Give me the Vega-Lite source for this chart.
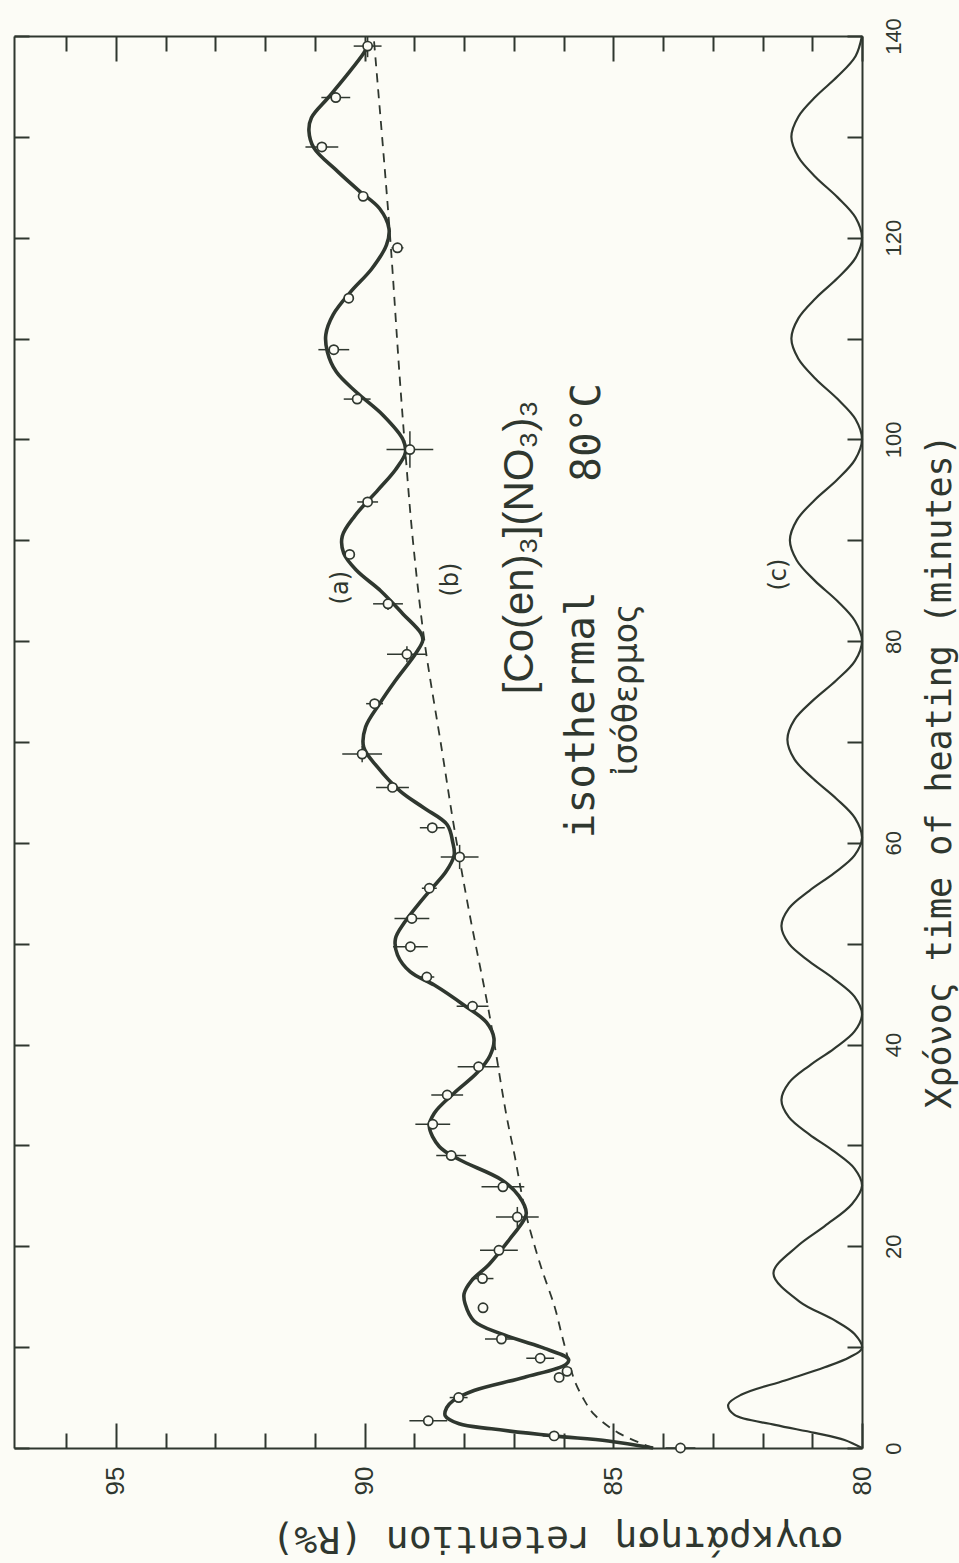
{
  "$schema": "https://vega.github.io/schema/vega-lite/v6.json",
  "width": 848,
  "height": 1412,
  "autosize": {"type": "none"},
  "padding": {"left": 14, "top": 36, "right": 97, "bottom": 115},
  "background": "#fcfcf6",
  "config": {
    "view": {"stroke": null},
    "axis": {"grid": false, "domainColor": "#2f372f", "domainWidth": 2, "tickColor": "#2f372f", "tickWidth": 2, "labelColor": "#2f372f", "titleColor": "#2f372f", "labelFlush": false, "labelOverlap": false}
  },
  "datasets": {
    "curveA": [{"t":0,"R":84.2},{"t":0.7,"R":85.1},{"t":1.2,"R":86.2},{"t":1.9,"R":87.45},{"t":2.4,"R":88.1},{"t":3.2,"R":88.38},{"t":4.0,"R":88.35},{"t":4.7,"R":88.22},{"t":5.7,"R":87.8},{"t":7.0,"R":86.8},{"t":8.3,"R":85.95},{"t":8.8,"R":85.9},{"t":10.0,"R":86.45},{"t":11.3,"R":87.25},{"t":12.6,"R":87.8},{"t":14.3,"R":87.98},{"t":15.3,"R":88.0},{"t":16.6,"R":87.85},{"t":18.2,"R":87.5},{"t":20.6,"R":87.1},{"t":22.6,"R":86.8},{"t":23.3,"R":86.75},{"t":25.0,"R":86.9},{"t":26.6,"R":87.25},{"t":28.6,"R":88.1},{"t":29.9,"R":88.5},{"t":31.9,"R":88.7},{"t":33.2,"R":88.6},{"t":35.2,"R":88.2},{"t":37.2,"R":87.74},{"t":38.9,"R":87.48},{"t":40.6,"R":87.4},{"t":42.2,"R":87.55},{"t":43.9,"R":88.0},{"t":45.9,"R":88.6},{"t":47.2,"R":89.08},{"t":48.9,"R":89.34},{"t":50.5,"R":89.38},{"t":52.1,"R":89.2},{"t":55.1,"R":88.72},{"t":57.1,"R":88.37},{"t":58.8,"R":88.2},{"t":60.1,"R":88.23},{"t":61.8,"R":88.34},{"t":63.5,"R":88.82},{"t":65.1,"R":89.28},{"t":67.5,"R":89.74},{"t":69.5,"R":90.02},{"t":71.5,"R":89.98},{"t":73.8,"R":89.7},{"t":76.1,"R":89.38},{"t":78.8,"R":88.97},{"t":80.1,"R":88.83},{"t":80.8,"R":88.87},{"t":82.7,"R":89.23},{"t":85.0,"R":89.68},{"t":87.0,"R":90.16},{"t":88.7,"R":90.42},{"t":90.4,"R":90.45},{"t":92.4,"R":90.2},{"t":95.0,"R":89.73},{"t":97.0,"R":89.38},{"t":98.7,"R":89.18},{"t":100.0,"R":89.23},{"t":102.4,"R":89.63},{"t":104.7,"R":90.17},{"t":106.7,"R":90.57},{"t":108.7,"R":90.75},{"t":110.4,"R":90.78},{"t":112.4,"R":90.63},{"t":114.7,"R":90.27},{"t":116.9,"R":89.86},{"t":119.3,"R":89.56},{"t":120.9,"R":89.51},{"t":122.9,"R":89.7},{"t":124.6,"R":90.1},{"t":126.6,"R":90.55},{"t":128.9,"R":91.02},{"t":130.6,"R":91.12},{"t":131.9,"R":91.07},{"t":133.9,"R":90.73},{"t":136.3,"R":90.33},{"t":138.3,"R":90.02},{"t":139.0,"R":89.94}],
    "curveB": [{"t":0,"R":84.2},{"t":1.5,"R":84.9},{"t":3.3,"R":85.38},{"t":4.7,"R":85.58},{"t":6.7,"R":85.78},{"t":8.7,"R":85.9},{"t":11.3,"R":86.04},{"t":14,"R":86.18},{"t":17.9,"R":86.45},{"t":21.2,"R":86.65},{"t":23.9,"R":86.79},{"t":28.9,"R":86.98},{"t":33,"R":87.15},{"t":43.2,"R":87.5},{"t":53.2,"R":87.9},{"t":61.5,"R":88.2},{"t":69.3,"R":88.45},{"t":80.1,"R":88.8},{"t":90,"R":89.03},{"t":98.7,"R":89.18},{"t":106.5,"R":89.3},{"t":120.9,"R":89.5},{"t":140,"R":89.82}],
    "curveC": [{"t":0,"R":80},{"t":0.8,"R":80.35},{"t":1.5,"R":80.95},{"t":2.3,"R":81.75},{"t":3.3,"R":82.57},{"t":4.3,"R":82.69},{"t":5.3,"R":82.42},{"t":6.7,"R":81.55},{"t":8.0,"R":80.75},{"t":9.0,"R":80.25},{"t":9.9,"R":80},{"t":11.3,"R":80.15},{"t":12.8,"R":80.6},{"t":14.5,"R":81.25},{"t":17.3,"R":81.78},{"t":20.0,"R":81.3},{"t":22.0,"R":80.75},{"t":24.2,"R":80.2},{"t":26,"R":80},{"t":27.7,"R":80.15},{"t":29.4,"R":80.56},{"t":31.1,"R":81.06},{"t":32.8,"R":81.47},{"t":34.5,"R":81.62},{"t":36.2,"R":81.47},{"t":37.9,"R":81.06},{"t":39.6,"R":80.56},{"t":41.3,"R":80.15},{"t":43,"R":80},{"t":44.75,"R":80.15},{"t":46.5,"R":80.56},{"t":48.25,"R":81.06},{"t":50,"R":81.47},{"t":51.75,"R":81.62},{"t":53.5,"R":81.47},{"t":55.25,"R":81.06},{"t":57,"R":80.56},{"t":58.75,"R":80.15},{"t":60.5,"R":80},{"t":62.45,"R":80.14},{"t":64.4,"R":80.52},{"t":66.35,"R":80.98},{"t":68.3,"R":81.36},{"t":70.25,"R":81.5},{"t":72.2,"R":81.36},{"t":74.15,"R":80.98},{"t":76.1,"R":80.52},{"t":78.05,"R":80.14},{"t":80,"R":80},{"t":82,"R":80.14},{"t":84,"R":80.5},{"t":86,"R":80.95},{"t":88,"R":81.31},{"t":90,"R":81.45},{"t":92,"R":81.31},{"t":94,"R":80.95},{"t":96,"R":80.5},{"t":98,"R":80.14},{"t":100,"R":80},{"t":102,"R":80.13},{"t":104,"R":80.49},{"t":106,"R":80.93},{"t":108,"R":81.28},{"t":110,"R":81.42},{"t":112,"R":81.28},{"t":114,"R":80.93},{"t":116,"R":80.49},{"t":118,"R":80.13},{"t":120,"R":80},{"t":122,"R":80.13},{"t":124,"R":80.49},{"t":126,"R":80.93},{"t":128,"R":81.28},{"t":130,"R":81.42},{"t":132,"R":81.28},{"t":134,"R":80.93},{"t":136,"R":80.49},{"t":138,"R":80.13},{"t":140,"R":80}],
    "pts": [{"t":139,"R":89.94},{"t":133.9,"R":90.58},{"t":129.0,"R":90.86},{"t":124.1,"R":90.03},{"t":119.0,"R":89.34},{"t":114.0,"R":90.32},{"t":108.9,"R":90.62},{"t":104.0,"R":90.15},{"t":99.0,"R":89.09},{"t":93.8,"R":89.94},{"t":88.6,"R":90.3},{"t":83.7,"R":89.53},{"t":78.7,"R":89.15},{"t":73.8,"R":89.8},{"t":68.8,"R":90.05},{"t":65.5,"R":89.44},{"t":61.5,"R":88.64},{"t":58.6,"R":88.09},{"t":55.5,"R":88.7},{"t":52.5,"R":89.05},{"t":49.7,"R":89.08},{"t":46.7,"R":88.75},{"t":43.8,"R":87.83},{"t":37.8,"R":87.71},{"t":35.0,"R":88.34},{"t":32.1,"R":88.63},{"t":29.0,"R":88.26},{"t":25.9,"R":87.22},{"t":22.9,"R":86.93},{"t":19.6,"R":87.3},{"t":16.8,"R":87.63},{"t":13.9,"R":87.62},{"t":10.8,"R":87.25},{"t":8.9,"R":86.47},{"t":7.0,"R":86.09},{"t":7.6,"R":85.93},{"t":5.0,"R":88.11},{"t":2.7,"R":88.72},{"t":1.2,"R":86.19},{"t":0,"R":83.65}],
    "errR": [{"t":139,"lo":89.66,"hi":90.22},{"t":133.9,"lo":90.29,"hi":90.87},{"t":129.0,"lo":90.53,"hi":91.19},{"t":119.0,"lo":89.22,"hi":89.46},{"t":108.9,"lo":90.31,"hi":90.93},{"t":104.0,"lo":89.88,"hi":90.42},{"t":99.0,"lo":88.62,"hi":89.56},{"t":93.8,"lo":89.73,"hi":90.15},{"t":83.7,"lo":89.23,"hi":89.83},{"t":78.7,"lo":88.75,"hi":89.55},{"t":73.8,"lo":89.63,"hi":89.97},{"t":68.8,"lo":89.65,"hi":90.45},{"t":65.5,"lo":89.11,"hi":89.77},{"t":61.5,"lo":88.39,"hi":88.89},{"t":58.6,"lo":87.71,"hi":88.47},{"t":55.5,"lo":88.55,"hi":88.85},{"t":52.5,"lo":88.7,"hi":89.4},{"t":49.7,"lo":88.73,"hi":89.43},{"t":46.7,"lo":88.6,"hi":88.9},{"t":43.8,"lo":87.51,"hi":88.15},{"t":37.8,"lo":87.29,"hi":88.13},{"t":35.0,"lo":88.02,"hi":88.66},{"t":32.1,"lo":88.28,"hi":88.98},{"t":29.0,"lo":87.96,"hi":88.56},{"t":25.9,"lo":86.79,"hi":87.65},{"t":22.9,"lo":86.5,"hi":87.36},{"t":19.6,"lo":86.92,"hi":87.68},{"t":16.8,"lo":87.41,"hi":87.85},{"t":10.8,"lo":86.92,"hi":87.58},{"t":8.9,"lo":86.19,"hi":86.75},{"t":5.0,"lo":87.93,"hi":88.29},{"t":2.7,"lo":88.34,"hi":89.1},{"t":1.2,"lo":85.96,"hi":86.42},{"t":0,"lo":83.35,"hi":83.95}],
    "errT": [{"R":89.94,"lo":137.9,"hi":140},{"R":89.09,"lo":97.2,"hi":100.8},{"R":89.53,"lo":83.1,"hi":84.3},{"R":89.15,"lo":77.9,"hi":79.5},{"R":90.05,"lo":68.0,"hi":69.6},{"R":88.09,"lo":57.4,"hi":59.8},{"R":86.93,"lo":21.9,"hi":23.9}]
  },
  "resolve": {"axis": {"x": "independent", "y": "independent"}},
  "layer": [
    {
      "data": {"name": "curveC"},
      "mark": {"type": "line", "interpolate": "catmull-rom", "strokeWidth": 2.2, "color": "#2f372f"},
      "encoding": {
        "x": {"field": "R", "type": "quantitative", "scale": {"domain": [80, 97.05], "reverse": true, "nice": false, "zero": false},
          "axis": {"orient": "bottom", "values": [80,81,82,83,84,85,86,87,88,89,90,91,92,93,94,95,96],
            "labelExpr": "datum.value % 5 === 0 ? datum.label : ''",
            "tickSize": {"condition": {"test": "datum.value % 5 === 0", "value": -25}, "value": -15},
            "labelAngle": 270, "labelAlign": "right", "labelBaseline": "middle", "labelPadding": 43,
            "labelFont": "Liberation Sans", "labelFontSize": 26,
            "title": "συγκράτηση   retention (R%)", "titleFont": "DejaVu Sans Mono", "titleFontSize": 38, "titleFontWeight": "normal",
            "titleAngle": 180, "titleAlign": "center", "titleBaseline": "middle", "titleX": 543, "titleY": 89}},
        "y": {"field": "t", "type": "quantitative", "scale": {"domain": [0, 140], "nice": false, "zero": false},
          "axis": {"orient": "right", "values": [0,10,20,30,40,50,60,70,80,90,100,110,120,130,140],
            "labelExpr": "datum.value % 20 === 0 ? datum.label : ''",
            "tickSize": -15, "labelAngle": 270, "labelAlign": "center", "labelBaseline": "top", "labelPadding": 36,
            "labelFont": "Liberation Sans", "labelFontSize": 22,
            "title": "Χρόνος   time of heating (minutes)", "titleFont": "DejaVu Sans Mono", "titleFontSize": 35, "titleFontWeight": "normal",
            "titleAngle": 270, "titleAlign": "center", "titleBaseline": "middle", "titleX": 77, "titleY": 735}},
        "order": {"field": "t", "type": "quantitative"}
      }
    },
    {
      "data": {"name": "curveB"},
      "mark": {"type": "line", "interpolate": "catmull-rom", "strokeWidth": 1.8, "strokeDash": [9, 7], "color": "#2f372f"},
      "encoding": {
        "x": {"field": "R", "type": "quantitative", "scale": {"domain": [80, 97.05], "reverse": true, "nice": false, "zero": false},
          "axis": {"orient": "top", "values": [80,81,82,83,84,85,86,87,88,89,90,91,92,93,94,95,96], "labels": false,
            "tickSize": {"condition": {"test": "datum.value % 5 === 0", "value": -25}, "value": -15}, "title": null}},
        "y": {"field": "t", "type": "quantitative", "scale": {"domain": [0, 140], "nice": false, "zero": false},
          "axis": {"orient": "left", "values": [0,10,20,30,40,50,60,70,80,90,100,110,120,130,140], "labels": false, "tickSize": -15, "title": null}},
        "order": {"field": "t", "type": "quantitative"}
      }
    },
    {
      "data": {"name": "curveA"},
      "mark": {"type": "line", "interpolate": "catmull-rom", "strokeWidth": 3.6, "color": "#2f372f"},
      "encoding": {
        "x": {"field": "R", "type": "quantitative", "scale": {"domain": [80, 97.05], "reverse": true, "nice": false, "zero": false}, "axis": null},
        "y": {"field": "t", "type": "quantitative", "scale": {"domain": [0, 140], "nice": false, "zero": false}, "axis": null},
        "order": {"field": "t", "type": "quantitative"}
      }
    },
    {
      "data": {"name": "errR"},
      "mark": {"type": "rule", "strokeWidth": 1.5, "color": "#2f372f"},
      "encoding": {
        "x": {"field": "lo", "type": "quantitative", "scale": {"domain": [80, 97.05], "reverse": true, "nice": false, "zero": false}, "axis": null},
        "x2": {"field": "hi"},
        "y": {"field": "t", "type": "quantitative", "scale": {"domain": [0, 140], "nice": false, "zero": false}, "axis": null}
      }
    },
    {
      "data": {"name": "errT"},
      "mark": {"type": "rule", "strokeWidth": 1.5, "color": "#2f372f"},
      "encoding": {
        "x": {"field": "R", "type": "quantitative", "scale": {"domain": [80, 97.05], "reverse": true, "nice": false, "zero": false}, "axis": null},
        "y": {"field": "lo", "type": "quantitative", "scale": {"domain": [0, 140], "nice": false, "zero": false}, "axis": null},
        "y2": {"field": "hi"}
      }
    },
    {
      "data": {"name": "pts"},
      "mark": {"type": "point", "shape": "circle", "size": 85, "filled": false, "fill": "#fcfcf6", "fillOpacity": 1, "strokeWidth": 1.7, "color": "#2f372f", "opacity": 1},
      "encoding": {
        "x": {"field": "R", "type": "quantitative", "scale": {"domain": [80, 97.05], "reverse": true, "nice": false, "zero": false}, "axis": null},
        "y": {"field": "t", "type": "quantitative", "scale": {"domain": [0, 140], "nice": false, "zero": false}, "axis": null}
      }
    },
    {
      "data": {"values": [{"label": "(a)", "t": 85.3, "R": 90.34}, {"label": "(b)", "t": 86.1, "R": 88.12}, {"label": "(c)", "t": 86.6, "R": 81.53}]},
      "mark": {"type": "text", "angle": 270, "align": "center", "baseline": "alphabetic", "font": "DejaVu Sans", "fontSize": 24, "color": "#2f372f"},
      "encoding": {
        "x": {"field": "R", "type": "quantitative", "scale": {"domain": [80, 97.05], "reverse": true, "nice": false, "zero": false}, "axis": null},
        "y": {"field": "t", "type": "quantitative", "scale": {"domain": [0, 140], "nice": false, "zero": false}, "axis": null},
        "text": {"field": "label"}
      }
    },
    {
      "data": {"values": [{"label": "[Co(en)₃](NO₃)₃", "t": 89.3, "R": 86.62}]},
      "mark": {"type": "text", "angle": 270, "align": "center", "baseline": "alphabetic", "font": "Liberation Sans", "fontSize": 42, "color": "#2f372f"},
      "encoding": {
        "x": {"field": "R", "type": "quantitative", "scale": {"domain": [80, 97.05], "reverse": true, "nice": false, "zero": false}, "axis": null},
        "y": {"field": "t", "type": "quantitative", "scale": {"domain": [0, 140], "nice": false, "zero": false}, "axis": null},
        "text": {"field": "label"}
      }
    },
    {
      "data": {"values": [{"label": "isothermal", "t": 72.7, "R": 85.39}, {"label": "80°C", "t": 100.7, "R": 85.27}]},
      "mark": {"type": "text", "angle": 270, "align": "center", "baseline": "alphabetic", "font": "DejaVu Sans Mono", "fontSize": 41, "color": "#2f372f"},
      "encoding": {
        "x": {"field": "R", "type": "quantitative", "scale": {"domain": [80, 97.05], "reverse": true, "nice": false, "zero": false}, "axis": null},
        "y": {"field": "t", "type": "quantitative", "scale": {"domain": [0, 140], "nice": false, "zero": false}, "axis": null},
        "text": {"field": "label"}
      }
    },
    {
      "data": {"values": [{"label": "ἰσόθερμος", "t": 75.2, "R": 84.52}]},
      "mark": {"type": "text", "angle": 270, "align": "center", "baseline": "alphabetic", "font": "DejaVu Sans", "fontSize": 33, "color": "#2f372f"},
      "encoding": {
        "x": {"field": "R", "type": "quantitative", "scale": {"domain": [80, 97.05], "reverse": true, "nice": false, "zero": false}, "axis": null},
        "y": {"field": "t", "type": "quantitative", "scale": {"domain": [0, 140], "nice": false, "zero": false}, "axis": null},
        "text": {"field": "label"}
      }
    }
  ]
}
